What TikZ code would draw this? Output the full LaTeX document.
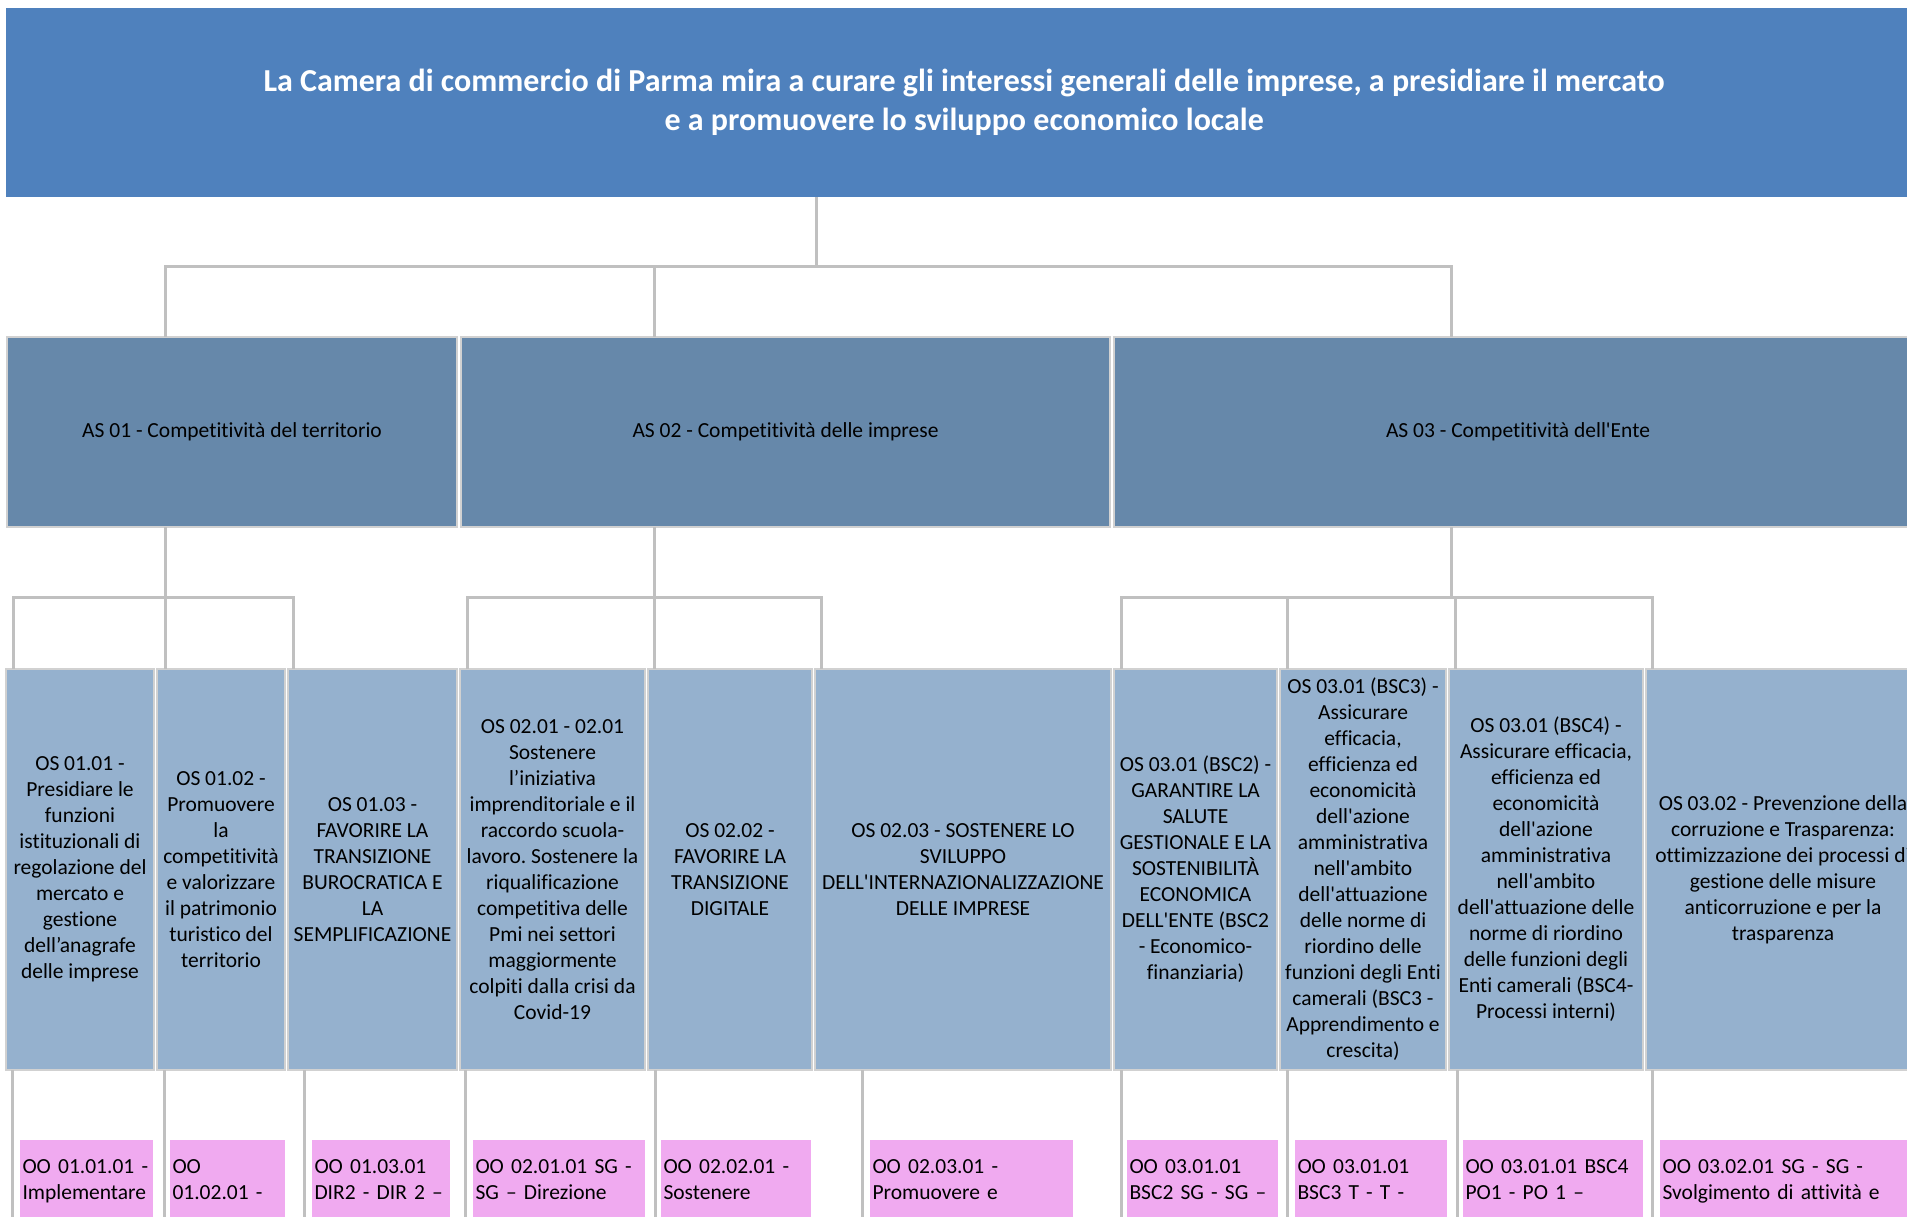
\documentclass[tikz,border=0pt]{standalone}
\usepackage{fontspec}
\setmainfont{Carlito}[Ligatures={TeXOff,CommonOff}]
\frenchspacing
\usetikzlibrary{positioning}

\definecolor{mission}{HTML}{4F81BD}
\definecolor{area}{HTML}{6688AA}
\definecolor{strategic}{HTML}{95B1CE}
\definecolor{operative}{HTML}{F0AAF0}
\definecolor{linkgray}{HTML}{C0C0C0}

\begin{document}
\begin{tikzpicture}[
        x=1pt, y=-1pt,
        node distance=3pt,
        link/.style={draw=linkgray, line width=3pt},
        box/.style={align=center, inner sep=2pt, outer sep=0pt, font=\fontsize{21.5}{26}\selectfont},
        areabox/.style={box, fill=area, draw=black!18, line width=1.5pt, minimum height=190pt},
        osbox/.style={box, fill=strategic, draw=black!18, line width=1.5pt, minimum height=401pt},
        oobox/.style={box, fill=operative, align=left, anchor=north west, inner xsep=2.5pt, inner ysep=10pt, text height=23pt, text depth=70pt}
      ]
      \fill[white, use as bounding box] (0,0) rectangle (1907,1216);
      \clip (0,0) rectangle (1907,1216);

      % mission
      \node (top) [anchor=north west, fill=mission, minimum width=1916pt, minimum height=189pt, align=center, text=white, font=\fontsize{32}{39}\selectfont\bfseries] at (6,8) {La Camera di commercio di Parma mira a curare gli interessi generali delle imprese, a presidiare il mercato\\e a promuovere lo sviluppo economico locale};

      % aree strategiche
      \node (as1) [areabox, anchor=north west, minimum width=450pt] at (7,337) {AS 01 - Competitività del territorio};
      \node (as2) [areabox, right=4pt of as1, minimum width=649pt] {AS 02 - Competitività delle imprese};
      \node (as3) [areabox, right=4pt of as2, minimum width=808pt] {AS 03 - Competitività dell'Ente};

      % obiettivi strategici
      \node (os11) [osbox, anchor=north west, minimum width=148pt] at (6,669) {OS 01.01 -\\Presidiare le\\funzioni\\istituzionali di\\regolazione del\\mercato e\\gestione\\dell’anagrafe\\delle imprese};
      \node (os12) [osbox, right=of os11, minimum width=128pt] {OS 01.02 -\\Promuovere\\la\\competitività\\e valorizzare\\il patrimonio\\turistico del\\territorio};
      \node (os13) [osbox, right=of os12, minimum width=169pt] {OS 01.03 -\\FAVORIRE LA\\TRANSIZIONE\\BUROCRATICA E\\LA\\SEMPLIFICAZIONE};
      \node (os21) [osbox, right=of os13, minimum width=185pt] {OS 02.01 - 02.01\\Sostenere\\l’iniziativa\\imprenditoriale e il\\raccordo scuola-\\lavoro. Sostenere la\\riqualificazione\\competitiva delle\\Pmi nei settori\\maggiormente\\colpiti dalla crisi da\\Covid-19};
      \node (os22) [osbox, right=of os21, minimum width=164pt] {OS 02.02 -\\FAVORIRE LA\\TRANSIZIONE\\DIGITALE};
      \node (os23) [osbox, right=of os22, minimum width=296pt] {OS 02.03 - SOSTENERE LO\\SVILUPPO\\DELL'INTERNAZIONALIZZAZIONE\\DELLE IMPRESE};
      \node (os31) [osbox, right=of os23, minimum width=163pt] {OS 03.01 (BSC2) -\\GARANTIRE LA\\SALUTE\\GESTIONALE E LA\\SOSTENIBILITÀ\\ECONOMICA\\DELL'ENTE (BSC2\\- Economico-\\finanziaria)};
      \node (os32) [osbox, right=of os31, minimum width=166pt] {OS 03.01 (BSC3) -\\Assicurare\\efficacia,\\efficienza ed\\economicità\\dell'azione\\amministrativa\\nell'ambito\\dell'attuazione\\delle norme di\\riordino delle\\funzioni degli Enti\\camerali (BSC3 -\\Apprendimento e\\crescita)};
      \node (os33) [osbox, right=of os32, minimum width=194pt] {OS 03.01 (BSC4) -\\Assicurare efficacia,\\efficienza ed\\economicità\\dell'azione\\amministrativa\\nell'ambito\\dell'attuazione delle\\norme di riordino\\delle funzioni degli\\Enti camerali (BSC4-\\Processi interni)};
      \node (os34) [osbox, right=of os33, minimum width=274pt] {OS 03.02 - Prevenzione della\\corruzione e Trasparenza:\\ottimizzazione dei processi di\\gestione delle misure\\anticorruzione e per la\\trasparenza};

      % obiettivi operativi
      \node (oo11) [oobox, text width=128pt] at (20,1140) {OO 01.01.01 -\\Implementare};
      \node (oo12) [oobox, text width=110pt] at (170,1140) {OO\\01.02.01 -};
      \node (oo13) [oobox, text width=133pt] at (312,1140) {OO 01.03.01\\DIR2 - DIR 2 –};
      \node (oo21) [oobox, text width=167pt] at (473,1140) {OO 02.01.01 SG -\\SG – Direzione};
      \node (oo22) [oobox, text width=145pt] at (661,1140) {OO 02.02.01 -\\Sostenere};
      \node (oo23) [oobox, text width=198pt] at (870,1140) {OO 02.03.01 -\\Promuovere e};
      \node (oo31) [oobox, text width=146pt] at (1127,1140) {OO 03.01.01\\BSC2 SG - SG –};
      \node (oo32) [oobox, text width=147pt] at (1295,1140) {OO 03.01.01\\BSC3 T - T -};
      \node (oo33) [oobox, text width=175pt] at (1463,1140) {OO 03.01.01 BSC4\\PO1 - PO 1 –};
      \node (oo34) [oobox, text width=255pt] at (1660,1140) {OO 03.02.01 SG - SG -\\Svolgimento di attività e};

      % connectors
      \foreach \n/\x in {as1/165, as2/654, as3/1451}
        \draw[link] (top.south -| 816,0) |- (\x,266) -- (\n.north -| \x,0);
      \foreach \n/\x in {os11/13, os12/165, os13/293}
        \draw[link] (as1.south -| 165,0) |- (\x,597) -- (\n.north -| \x,0);
      \foreach \n/\x in {os21/467, os22/654, os23/821}
        \draw[link] (as2.south -| 654,0) |- (\x,597) -- (\n.north -| \x,0);
      \foreach \n/\x in {os31/1121, os32/1287, os33/1455, os34/1652}
        \draw[link] (as3.south -| 1451,0) |- (\x,597) -- (\n.north -| \x,0);
      \foreach \n/\x in {11/12, 12/164, 13/304, 21/465, 22/655, 23/862, 31/1121, 32/1287, 33/1457, 34/1652}
        \draw[link] (os\n.south -| \x,0) -- (oo\n.south -| \x,0);

    \end{tikzpicture}
\end{document}
